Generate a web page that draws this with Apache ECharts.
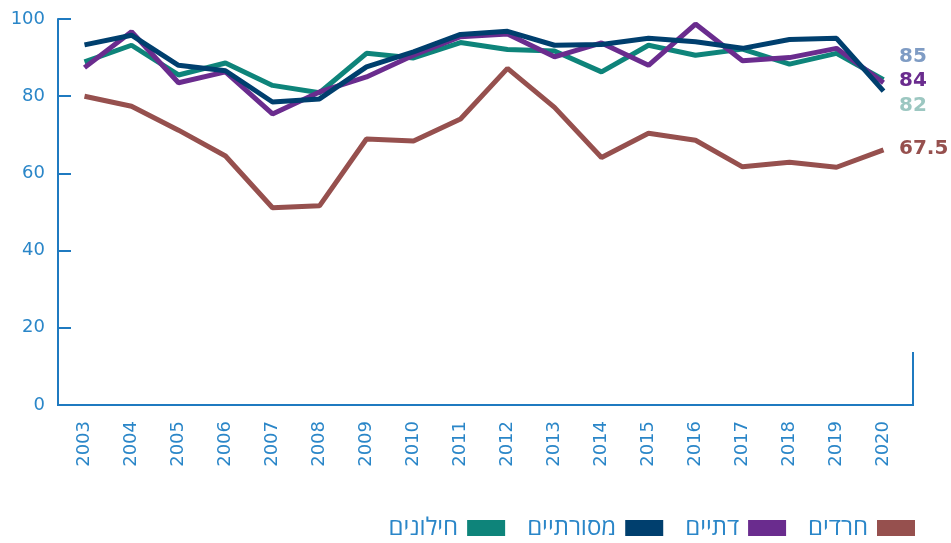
<!DOCTYPE html>
<html>
<head>
<meta charset="utf-8">
<script src="https://cdn.jsdelivr.net/npm/echarts@6/dist/echarts.min.js"></script>
<style>
  html, body { margin: 0; padding: 0; background: #fff; }
  #main { width: 951px; height: 543px; }
</style>
</head>
<body>
<div id="main"></div>
<script>
// years on the x axis
const years = ['2003','2004','2005','2006','2007','2008','2009','2010','2011',
               '2012','2013','2014','2015','2016','2017','2018','2019','2020'];

// values (percent)
const secular     = [88.9, 93.2, 85.5, 88.6, 82.8, 80.9, 91.1, 89.9, 93.9, 92.1, 91.7, 86.3, 93.2, 90.6, 92.2, 88.3, 91.1, 84.3];
const traditional = [93.3, 95.8, 88.0, 86.6, 78.5, 79.3, 87.6, 91.5, 96.0, 96.8, 93.2, 93.4, 95.0, 94.1, 92.4, 94.7, 95.0, 81.3];
const religious   = [87.4, 96.7, 83.5, 86.3, 75.4, 81.1, 85.0, 90.6, 95.4, 96.1, 90.2, 93.8, 88.0, 98.7, 89.2, 90.0, 92.4, 83.5];
const haredi      = [80.0, 77.4, 71.2, 64.5, 51.1, 51.6, 68.9, 68.4, 74.1, 87.2, 77.1, 64.1, 70.4, 68.6, 61.7, 62.9, 61.6, 66.1];

const seriesNames = ['חילונים', 'מסורתיים', 'דתיים', 'חרדים'];
const seriesColors = ['#0e847a', '#003f6e', '#6a2c8e', '#96504e'];

// the numbers printed at the right end
const endTexts = ['85', '84', '82', '67.5'];
const endColors = ['#7f9cc4', '#6a2c8e', '#9cc7c1', '#96504e'];

const axisBlue = '#1f7ac0';
const labelBlue = '#2a86c8';
const font = '"DejaVu Sans", Verdana, sans-serif';
const legendFont = '"Open Sans", "Noto Sans", sans-serif';

const chart = echarts.init(document.getElementById('main'), null, { renderer: 'canvas' });

const seriesData = [secular, traditional, religious, haredi];
// draw order so navy sits over teal and purple
const drawOrder = [3, 0, 2, 1];

const option = {
    backgroundColor: '#fff',
    animation: false,
    textStyle: { fontFamily: font },
    grid: { left: 61, right: 44, top: 19, bottom: 138 },
    legend: {
        data: seriesNames,
        right: 31,
        bottom: -2,
        align: 'right',
        itemWidth: 38,
        itemHeight: 16,
        itemGap: 22,
        icon: 'rect',
        textStyle: { color: labelBlue, fontSize: 24, fontFamily: legendFont, padding: [0, 4, 0, 0] }
    },
    xAxis: {
        type: 'category',
        data: years,
        boundaryGap: true,
        axisLine: { lineStyle: { color: axisBlue, width: 2 } },
        axisTick: { show: false },
        axisLabel: { rotate: 90, color: labelBlue, fontSize: 18, margin: 16, interval: 0 }
    },
    yAxis: {
        type: 'value',
        min: 0,
        max: 100,
        interval: 20,
        offset: 3,
        splitLine: { show: false },
        axisLine: { show: true, lineStyle: { color: axisBlue, width: 2 } },
        axisTick: { show: true, inside: true, length: 13, lineStyle: { color: axisBlue, width: 2 } },
        axisLabel: { color: labelBlue, fontSize: 18, margin: 13 }
    },
    series: drawOrder.map(i => ({
        name: seriesNames[i],
        type: 'line',
        data: seriesData[i],
        showSymbol: false,
        symbol: 'none',
        lineStyle: { width: 5, color: seriesColors[i] },
        itemStyle: { color: seriesColors[i] }
    })),
    graphic: [
        // axis frame pieces: short right edge and x-axis extensions
        { type: 'polyline', shape: { points: [[906, 405], [913, 405], [913, 352]] },
          style: { stroke: axisBlue, lineWidth: 2, fill: null } },
        { type: 'line', shape: { x1: 57, y1: 405, x2: 62, y2: 405 },
          style: { stroke: axisBlue, lineWidth: 2 } }
    ].concat(endTexts.map((t, i) => ({
        type: 'text',
        left: 899,
        top: [47, 71, 96, 139][i],
        style: { text: t, fill: endColors[i], font: 'bold 20px ' + font }
    })))
};

chart.setOption(option);
</script>
</body>
</html>
